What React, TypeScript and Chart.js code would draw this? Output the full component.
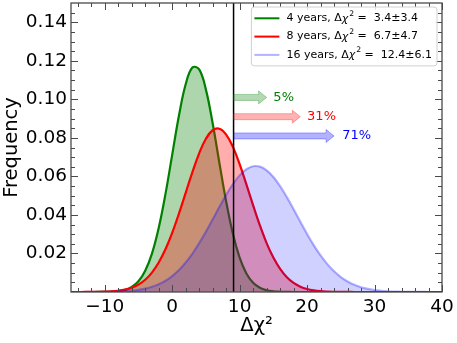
import React, { useEffect, useRef } from "react";
import { Chart, registerables } from "chart.js";

Chart.register(...registerables);

// ---- data ----
const xs = [-15, -14, -13, -12, -11, -10, -9, -8, -7, -6, -5, -4, -3, -2, -1, 0, 1, 2, 3, 4, 5, 6, 7, 8, 9, 10, 11, 12, 13, 14, 15, 16, 17, 18, 19, 20, 21, 22, 23, 24, 25, 26, 27, 28, 29, 30, 31, 32, 33, 34, 35, 36, 37, 38, 39, 40];

const green4 = [0, 0, 0.000001, 0.000004, 0.000015, 0.00005, 0.00015, 0.00042, 0.00109, 0.00257, 0.00555, 0.01098, 0.01995, 0.03324, 0.05078, 0.07116, 0.09146, 0.10779, 0.11652, 0.11552, 0.10503, 0.08759, 0.06698, 0.04698, 0.03022, 0.01783, 0.00965, 0.00479, 0.00218, 0.00091, 0.00035, 0.00012, 0.00004, 0.00001, 0, 0, 0, 0, 0, 0, 0, 0, 0, 0, 0, 0, 0, 0, 0, 0, 0, 0, 0, 0, 0, 0];

const red8 = [0.000002, 0.000005, 0.000013, 0.000031, 0.000071, 0.000154, 0.00032, 0.00064, 0.00121, 0.0022, 0.00383, 0.00636, 0.01009, 0.0153, 0.02218, 0.03073, 0.04068, 0.05148, 0.06226, 0.07197, 0.07951, 0.08395, 0.08471, 0.0817, 0.07531, 0.06634, 0.05585, 0.04494, 0.03456, 0.0254, 0.01785, 0.01199, 0.00769, 0.00472, 0.00277, 0.00155, 0.00083, 0.00042, 0.00021, 0.0001, 0.00004, 0.00002, 0.00001, 0, 0, 0, 0, 0, 0, 0, 0, 0, 0, 0, 0, 0];

const blue16 = [0.000003, 0.000006, 0.000011, 0.000022, 0.000042, 0.000077, 0.000139, 0.000244, 0.000416, 0.00069, 0.00112, 0.00176, 0.0027, 0.00403, 0.00586, 0.00829, 0.01141, 0.01529, 0.01995, 0.02534, 0.03133, 0.03772, 0.0442, 0.05042, 0.056, 0.06053, 0.0637, 0.06526, 0.06509, 0.06319, 0.05972, 0.05495, 0.04922, 0.04291, 0.03642, 0.0301, 0.02421, 0.01896, 0.01445, 0.01073, 0.00775, 0.00545, 0.00373, 0.00249, 0.00161, 0.00102, 0.00063, 0.00037, 0.00022, 0.00012, 0.00007, 0.00004, 0.00002, 0.00001, 0, 0];

const seriesYears = ["4 years", "8 years", "16 years"];
const seriesMeans = ["3.4", "6.7", "12.4"];
const seriesSigmas = ["3.4", "4.7", "6.1"];

const cutValue = 9.1;
const arrowY = [0.101, 0.091, 0.081];
const arrowEnd = [14, 19, 24];
const pctLabels = ["5%", "31%", "71%"];
const pctLabelX = [15, 20, 25.2];

const xTicks = [-10, 0, 10, 20, 30, 40];
const yTicks = [0.02, 0.04, 0.06, 0.08, 0.1, 0.12, 0.14];

// ---- styles ----
const FONT = "'DejaVu Sans', 'Liberation Sans', sans-serif";
const lineColors = ["#008000", "#ff0000", "rgba(0,0,255,0.3)"];
const fillColors = ["rgba(0,128,0,0.32)", "rgba(255,0,0,0.32)", "rgba(0,0,255,0.18)"];
const arrowColors = ["rgba(0,128,0,0.3)", "rgba(255,0,0,0.3)", "rgba(0,0,255,0.3)"];
const textColors = ["#008000", "#ff0000", "#0000ff"];
const FRAME = "#4a4a4a";

const fmtX = (v: number) => (v < 0 ? "\u2212" + Math.abs(v) : String(v));

const overlay = {
  id: "overlay",
  afterDatasetsDraw(chart: any) {
    const { ctx, chartArea, scales } = chart;
    const { left, right, top, bottom } = chartArea;
    const xs_ = scales.x;
    const ys_ = scales.y;
    ctx.save();

    // vertical cut line
    const cx = xs_.getPixelForValue(cutValue);
    ctx.strokeStyle = "#000";
    ctx.lineWidth = 1.5;
    ctx.beginPath();
    ctx.moveTo(cx, top);
    ctx.lineTo(cx, bottom);
    ctx.stroke();

    // arrows
    for (let i = 0; i < arrowY.length; i++) {
      const y = ys_.getPixelForValue(arrowY[i]);
      const x0 = cx;
      const x1 = xs_.getPixelForValue(arrowEnd[i]);
      const sh = 3, hh = 6.5, hl = 8;
      ctx.beginPath();
      ctx.moveTo(x0, y - sh);
      ctx.lineTo(x1 - hl, y - sh);
      ctx.lineTo(x1 - hl, y - hh);
      ctx.lineTo(x1, y);
      ctx.lineTo(x1 - hl, y + hh);
      ctx.lineTo(x1 - hl, y + sh);
      ctx.lineTo(x0, y + sh);
      ctx.closePath();
      ctx.fillStyle = arrowColors[i];
      ctx.fill();
      ctx.strokeStyle = arrowColors[i];
      ctx.lineWidth = 1;
      ctx.stroke();
      ctx.font = `13px ${FONT}`;
      ctx.fillStyle = textColors[i];
      ctx.textAlign = "left";
      ctx.textBaseline = "middle";
      ctx.fillText(pctLabels[i], xs_.getPixelForValue(pctLabelX[i]), y);
    }

    // frame
    ctx.strokeStyle = FRAME;
    ctx.lineWidth = 1.3;
    ctx.strokeRect(left, top, right - left, bottom - top);

    // ticks (inward, all sides)
    ctx.lineWidth = 1;
    const MAJ = 7, MIN = 4;
    const drawX = (v: number, len: number) => {
      const px = Math.round(xs_.getPixelForValue(v)) + 0.5;
      ctx.beginPath();
      ctx.moveTo(px, bottom);
      ctx.lineTo(px, bottom - len);
      ctx.moveTo(px, top);
      ctx.lineTo(px, top + len);
      ctx.stroke();
    };
    const drawY = (v: number, len: number) => {
      const py = Math.round(ys_.getPixelForValue(v)) + 0.5;
      ctx.beginPath();
      ctx.moveTo(left, py);
      ctx.lineTo(left + len, py);
      ctx.moveTo(right, py);
      ctx.lineTo(right - len, py);
      ctx.stroke();
    };
    for (let k = -7; k <= 20; k++) {
      const v = k * 2;
      if (v % 10 === 0) drawX(v, MAJ);
      else drawX(v, MIN);
    }
    for (let k = 1; k < 30; k++) {
      const v = k * 0.005;
      if (k % 4 === 0) drawY(v, MAJ);
      else drawY(v, MIN);
    }

    // legend
    const fs = 11;
    const mainFont = `${fs}px ${FONT}`;
    const italFont = `italic ${fs}px ${FONT}`;
    const supFont = `${(fs * 0.7).toFixed(1)}px ${FONT}`;
    const gapBeforeEq = 3.5;
    const gapAfterEq = 7;
    const entries = seriesYears.map((yr, i) => ({
      pre: `${yr}, \u0394`,
      chi: "\u03c7",
      sup: "2",
      eq: "=",
      post: `${seriesMeans[i]}\u00b1${seriesSigmas[i]}`,
    }));
    const measure = (e: any) => {
      ctx.font = mainFont;
      let w = ctx.measureText(e.pre).width + ctx.measureText(e.eq).width + ctx.measureText(e.post).width;
      ctx.font = italFont;
      w += ctx.measureText(e.chi).width + 1;
      ctx.font = supFont;
      w += ctx.measureText(e.sup).width;
      return w + gapBeforeEq + gapAfterEq;
    };
    const maxW = Math.max(...entries.map(measure));
    const boxW = 3 + 25 + 7 + maxW + 5;
    const boxR = right - 5;
    const boxL = boxR - boxW;
    const boxT = top + 4;
    const rowH = 18.3;
    const boxH = rowH * entries.length + 4;
    const r = 3;
    ctx.beginPath();
    ctx.moveTo(boxL + r, boxT);
    ctx.lineTo(boxL + boxW - r, boxT);
    ctx.quadraticCurveTo(boxL + boxW, boxT, boxL + boxW, boxT + r);
    ctx.lineTo(boxL + boxW, boxT + boxH - r);
    ctx.quadraticCurveTo(boxL + boxW, boxT + boxH, boxL + boxW - r, boxT + boxH);
    ctx.lineTo(boxL + r, boxT + boxH);
    ctx.quadraticCurveTo(boxL, boxT + boxH, boxL, boxT + boxH - r);
    ctx.lineTo(boxL, boxT + r);
    ctx.quadraticCurveTo(boxL, boxT, boxL + r, boxT);
    ctx.closePath();
    ctx.fillStyle = "rgba(255,255,255,0.85)";
    ctx.fill();
    ctx.strokeStyle = "#d0d0d0";
    ctx.lineWidth = 1;
    ctx.stroke();

    entries.forEach((e, i) => {
      const cy = boxT + 11.3 + i * rowH;
      ctx.strokeStyle = lineColors[i];
      ctx.lineWidth = 2;
      ctx.beginPath();
      ctx.moveTo(boxL + 3, cy);
      ctx.lineTo(boxL + 28, cy);
      ctx.stroke();
      let tx = boxL + 35;
      ctx.fillStyle = "#000";
      ctx.textAlign = "left";
      ctx.textBaseline = "middle";
      ctx.font = mainFont;
      ctx.fillText(e.pre, tx, cy);
      tx += ctx.measureText(e.pre).width;
      ctx.font = italFont;
      ctx.fillText(e.chi, tx, cy + 0.5);
      tx += ctx.measureText(e.chi).width + 1;
      ctx.font = supFont;
      ctx.fillText(e.sup, tx, cy - 4.5);
      tx += ctx.measureText(e.sup).width + gapBeforeEq;
      ctx.font = mainFont;
      ctx.fillText(e.eq, tx, cy);
      tx += ctx.measureText(e.eq).width + gapAfterEq;
      ctx.fillText(e.post, tx, cy);
    });

    ctx.restore();
  },
};

export default function App() {
  const ref = useRef<HTMLCanvasElement | null>(null);
  useEffect(() => {
    if (!ref.current) return;
    const series = [green4, red8, blue16];
    const datasets: any[] = [];
    series.forEach((s, i) => {
      const pts = xs.map((x, j) => ({ x, y: s[j] }));
      datasets.push({
        label: seriesYears[i] + " hist",
        data: pts,
        borderWidth: 0,
        borderColor: "rgba(0,0,0,0)",
        backgroundColor: fillColors[i],
        fill: "origin",
        pointRadius: 0,
        tension: 0.4,
        order: 10 - i * 2,
      });
      datasets.push({
        label: seriesYears[i],
        data: pts,
        borderWidth: 2.2,
        borderColor: lineColors[i],
        backgroundColor: "rgba(0,0,0,0)",
        fill: false,
        pointRadius: 0,
        tension: 0.4,
        order: 9 - i * 2,
      });
    });
    const chart = new Chart(ref.current, {
      type: "line",
      data: { datasets },
      options: {
        animation: false,
        responsive: false,
        devicePixelRatio: 1,
        layout: { padding: { left: 0, top: 3, right: 15, bottom: 0 } },
        plugins: { legend: { display: false }, tooltip: { enabled: false }, title: { display: false } },
        scales: {
          x: {
            type: "linear",
            min: -15,
            max: 40,
            afterBuildTicks: (s: any) => {
              s.ticks = xTicks.map((v) => ({ value: v }));
            },
            afterFit: (s: any) => {
              s.height = 51;
              s.paddingLeft = 0;
              s.paddingRight = 0;
            },
            grid: { display: false, drawTicks: false },
            border: { display: false },
            ticks: {
              font: { family: FONT, size: 18.5 },
              color: "#000",
              padding: 4,
              maxRotation: 0,
              autoSkip: false,
              callback: (v: any) => fmtX(Number(v)),
            },
            title: {
              display: true,
              text: "\u0394\u03c7\u00b2",
              font: { family: FONT, size: 19.5 },
              color: "#000",
              padding: { top: 0, bottom: 5 },
            },
          },
          y: {
            type: "linear",
            min: 0,
            max: 0.15,
            afterBuildTicks: (s: any) => {
              s.ticks = yTicks.map((v) => ({ value: v }));
            },
            afterFit: (s: any) => {
              s.width = 71;
              s.paddingTop = 0;
              s.paddingBottom = 0;
            },
            grid: { display: false, drawTicks: false },
            border: { display: false },
            ticks: {
              font: { family: FONT, size: 18.5 },
              color: "#000",
              padding: 4,
              autoSkip: false,
              callback: (v: any) => Number(v).toFixed(2),
            },
            title: {
              display: true,
              text: "Frequency",
              font: { family: FONT, size: 19.5 },
              color: "#000",
              padding: { top: 0, bottom: 0 },
            },
          },
        },
      },
      plugins: [overlay],
    });
    return () => chart.destroy();
  }, []);
  return (
    <div style={{ position: "absolute", left: 0, top: 0, width: 457, height: 343, background: "#fff" }}>
      <canvas ref={ref} width={457} height={343} style={{ display: "block", width: 457, height: 343 }} />
    </div>
  );
}
